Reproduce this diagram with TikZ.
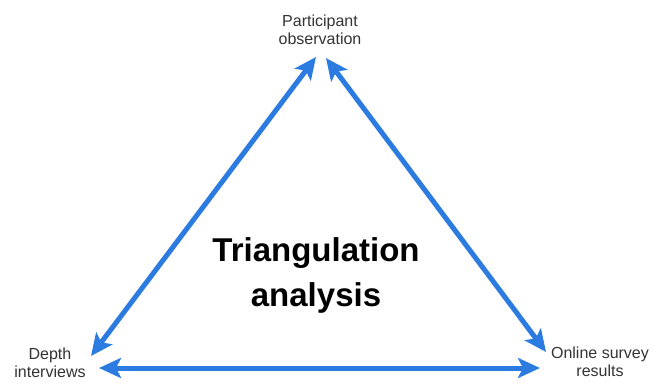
\documentclass[tikz,border=0pt]{standalone}
\usepackage{fontspec}
\setmainfont{Liberation Sans}
\usetikzlibrary{arrows.meta}
\definecolor{arrowblue}{HTML}{2B7BE0}
\begin{document}
\begin{tikzpicture}[x=1pt,y=-1pt,
  lbl/.style={align=center,font=\fontsize{16}{18}\selectfont,text=black!80,inner sep=0pt},
  title/.style={align=center,font=\fontsize{33}{45}\selectfont\bfseries,inner sep=0pt},
  link/.style={draw=arrowblue,line width=5pt,{Stealth[length=22pt,width=20pt,inset=5pt]}-{Stealth[length=22pt,width=20pt,inset=5pt]}}]
\useasboundingbox[fill=white] (0,0) rectangle (653,383);
\node[lbl] (po) at (320,30) {Participant\\observation};
\node[lbl] (di) at (50,363) {Depth\\interviews};
\node[lbl] (os) at (600,362) {Online survey\\results};
\node[title] (ta) at (316,275) {Triangulation\\analysis};
\coordinate (tl) at (316,57);
\coordinate (tr) at (326,58);
\coordinate (bl) at (91,356);
\coordinate (blh) at (99,368);
\coordinate (br) at (546,352);
\coordinate (brh) at (540,368);
\draw[link] (bl) -- (tl);
\draw[link] (tr) -- (br);
\draw[link] (blh) -- (brh);
\end{tikzpicture}
\end{document}
